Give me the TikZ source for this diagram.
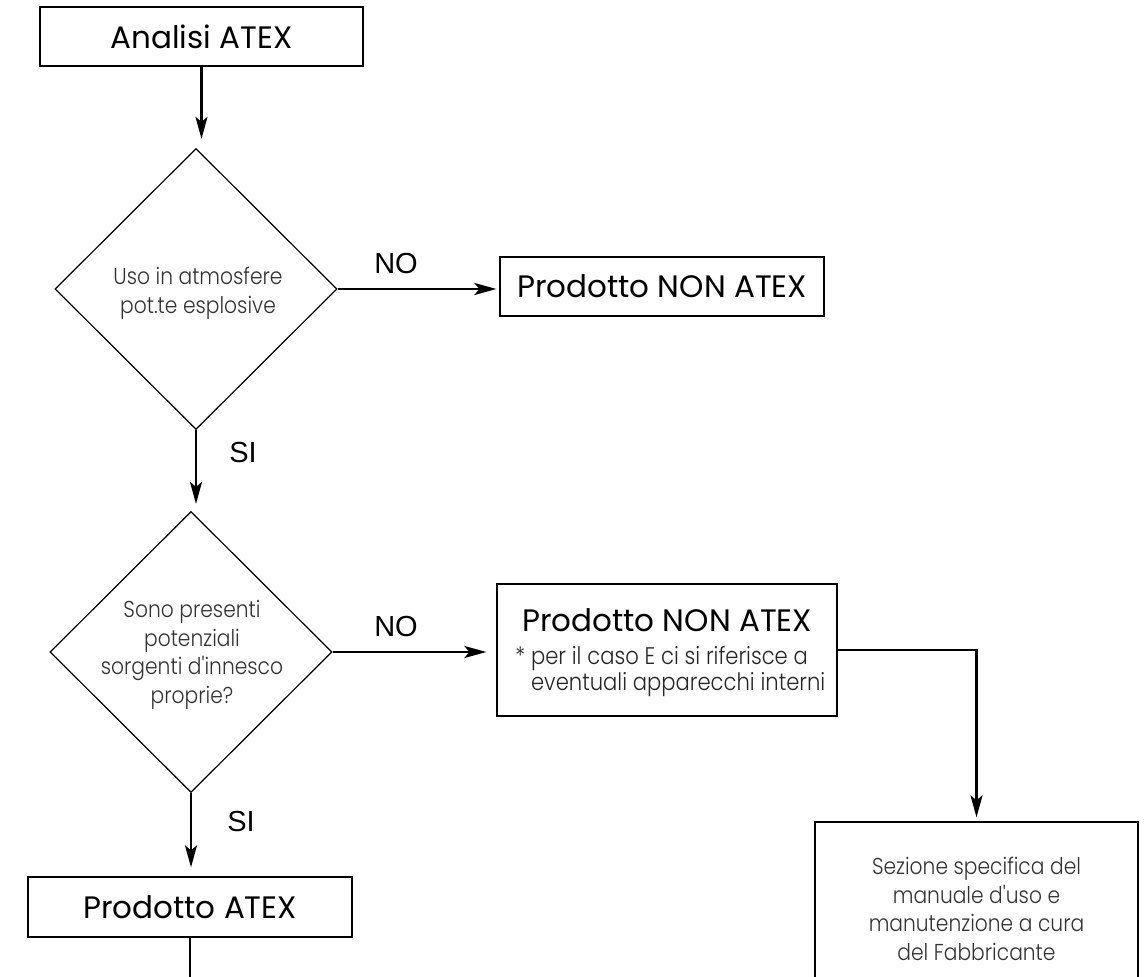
\documentclass[tikz,border=0pt]{standalone}
\usepackage{fontspec}
\setmainfont{Poppins}
\IfFontExistsTF{Poppins Light}{\newfontfamily\lightfont[FakeStretch=0.88]{Poppins Light}}{\newfontfamily\lightfont[FakeStretch=0.88]{Poppins}}
\newfontfamily\arialfont{Liberation Sans}
\usetikzlibrary{shapes.geometric,arrows.meta}
\begin{document}
\begin{tikzpicture}[x=0.5pt,y=-0.5pt,
 box/.style={draw, line width=0.65pt, inner sep=0pt},
 titletext/.style={font=\fontsize{15.5}{18}\selectfont, text=black, inner sep=0pt},
 dtext/.style={font=\lightfont\fontsize{11.5}{14.3}\selectfont, text=black!80, align=center, inner sep=0pt},
 subtext/.style={font=\lightfont\fontsize{12}{13}\selectfont, text=black!85, align=left, inner sep=0pt},
 cond/.style={draw, diamond, line width=0.6pt, minimum width=141pt, minimum height=140.5pt, inner sep=0pt, aspect=1},
 conn/.style={line width=1.2pt, -{Stealth[length=11pt,width=6pt,inset=2.5pt]}},
 plainconn/.style={line width=1.2pt},
 yn/.style={font=\arialfont\fontsize{14.5}{17}\selectfont, inner sep=0pt}]
\path[use as bounding box, fill=white] (0,0) rectangle (1144,977);
\clip (0,0) rectangle (1144,977);

% boxes
\node[box, minimum width=161.5pt, minimum height=29.5pt] (n0) at (201.5,36.5) {};
\node[titletext] (n0t) at (201.5,36.5) {Analisi ATEX};

\node[cond] (d1) at (196,289) {};
\node[dtext] (d1t) at (198,293) {Uso in atmosfere\\pot.te esplosive};

\node[box, minimum width=162pt, minimum height=29.5pt] (n1) at (662,286.5) {};
\node[titletext] (n1t) at (662,286.5) {Prodotto NON ATEX};

\node[cond] (d2) at (191,652) {};
\node[dtext] (d2t) at (192,655) {Sono presenti\\potenziali\\sorgenti d'innesco\\proprie?};

\node[box, minimum width=170pt, minimum height=66pt] (n2) at (667,650) {};
\node[titletext] (n2t) at (667,620) {Prodotto NON ATEX};
\node[subtext, anchor=base west] (n2s) at (515,690) {* per il caso E ci si riferisce a\\\hphantom{* }eventuali apparecchi interni};

\node[box, minimum width=162pt, minimum height=30pt] (n4) at (190,907) {};
\node[titletext] (n4t) at (190,907) {Prodotto ATEX};

\node[box, minimum width=161.5pt, minimum height=85pt] (n3) at (976.5,907) {};
\node[dtext] (n3t) at (976.5,909) {Sezione specifica del\\manuale d'uso e\\manutenzione a cura\\del Fabbricante};

\coordinate (bot) at (190,990);

% connectors
\draw[conn, shorten >=4.5pt] (n0.south) -- (n0.south |- d1.north);
\draw[conn, shorten >=1.5pt] (d1.east) -- (d1.east -| n1.west);
\draw[conn, shorten >=3.5pt] (d1.south) -- (d1.south |- d2.north);
\draw[conn, shorten >=5pt] (d2.east) -- (d2.east -| n2.west);
\draw[conn, shorten >=4.5pt] (d2.south) -- (d2.south |- n4.north);
\draw[conn, shorten >=2pt] (n2.east) -| (n3.north);
\draw[plainconn] (n4.south) -- (bot);

% labels
\node[yn] (no1) at (396,264) {NO};
\node[yn] (no2) at (396,627) {NO};
\node[yn] (si1) at (243,453) {SI};
\node[yn] (si2) at (241,822) {SI};
\end{tikzpicture}
\end{document}
